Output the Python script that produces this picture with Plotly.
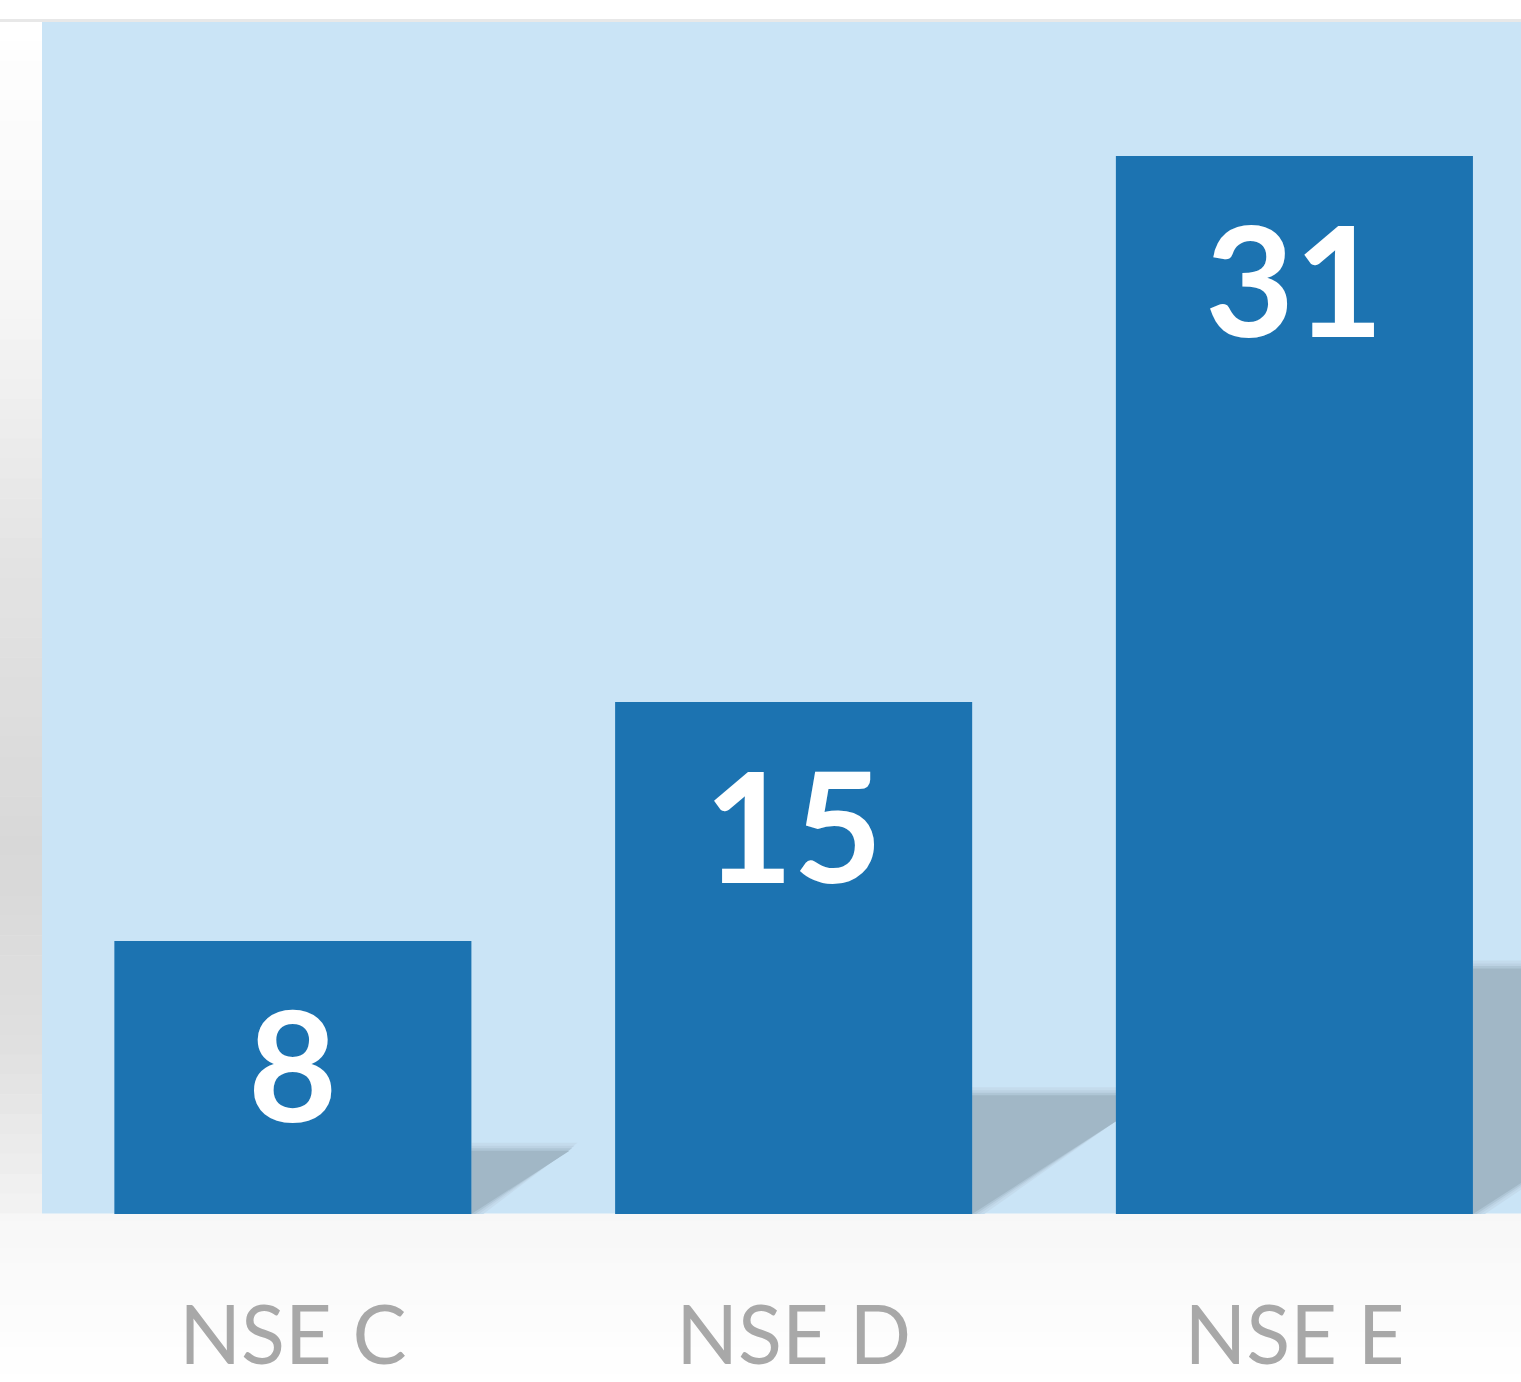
import plotly.graph_objects as go

# ---- data ----
categories = ["NSE C", "NSE D", "NSE E"]
values = [8, 15, 31]

# ---- style ----
BAR = "#1c73b1"
PLOT_BG = "#cae4f6"
SHADOW = "#a1b7c6"
LABEL_GREY = "#a8a8a8"

W, H = 1521, 1382
ML, MR, MT, MB = 42, 0, 22, 168
BAR_WIDTH = 0.713
X_RANGE = [-0.501, 2.4525]
Y_RANGE = [0, 34.93]

plot_w = W - ML - MR
plot_h = H - MT - MB
px_per_x = plot_w / (X_RANGE[1] - X_RANGE[0])
px_per_y = plot_h / (Y_RANGE[1] - Y_RANGE[0])

fig = go.Figure()
fig.add_trace(go.Bar(
    x=categories, y=values, width=BAR_WIDTH,
    marker=dict(color=BAR, line=dict(width=0)),
    hoverinfo="skip",
))

shapes = []

# ---- shadows behind bars (derived from values) ----
def shadow_path(i, v, grow_px=0.0):
    h = 0.232 * v
    dx = 1.55 * h * px_per_y / px_per_x
    g_x = grow_px / px_per_x
    g_y = grow_px / px_per_y
    xr = i + BAR_WIDTH / 2
    return (f"M {xr},{0} L {xr},{h + g_y} L {xr + dx + g_x},{h + g_y} "
            f"L {xr + 1.5 * g_x},{0} Z")

for i, v in enumerate(values):
    for grow, col in [(8, "#c4dbec"), (5, "#bcd2e3"), (2.5, "#afc6d6"), (0, SHADOW)]:
        shapes.append(dict(type="path", path=shadow_path(i, v, grow), xref="x", yref="y",
                           fillcolor=col, line=dict(width=0), layer="below"))

# ---- background decorations (paper coords) ----
def lerp(c1, c2, t):
    return tuple(round(a + (b - a) * t) for a, b in zip(c1, c2))

def hexrgb(h):
    h = h.lstrip("#")
    return tuple(int(h[k:k + 2], 16) for k in (0, 2, 4))

def grad_color(stops, pos):
    for (p1, c1), (p2, c2) in zip(stops, stops[1:]):
        if p1 <= pos <= p2:
            t = (pos - p1) / (p2 - p1) if p2 > p1 else 0
            r, g, b = lerp(hexrgb(c1), hexrgb(c2), t)
            return f"rgb({r},{g},{b})"
    return stops[-1][1]

def py_to_paper(y):
    return (H - MB - y) / plot_h

def px_to_paper(x):
    return (x - ML) / plot_w

# left strip gradient
left_stops = [(22, "#ffffff"), (300, "#f6f6f6"), (550, "#e4e4e4"),
              (850, "#d8d8d8"), (1050, "#e0e0e0"), (1214, "#f3f3f3")]
n = 60
for k in range(n):
    y0 = 22 + (1214 - 22) * k / n
    y1 = 22 + (1214 - 22) * (k + 1) / n
    shapes.append(dict(type="rect", xref="paper", yref="paper",
                       x0=px_to_paper(0), x1=px_to_paper(ML),
                       y0=py_to_paper(y1), y1=py_to_paper(y0) + 0.0005,
                       fillcolor=grad_color(left_stops, (y0 + y1) / 2),
                       line=dict(width=0), layer="below"))

# bottom band gradient
bot_stops = [(1214, "#f7f7f7"), (1382, "#ffffff")]
n = 24
for k in range(n):
    y0 = 1214 + (1382 - 1214) * k / n
    y1 = 1214 + (1382 - 1214) * (k + 1) / n
    shapes.append(dict(type="rect", xref="paper", yref="paper",
                       x0=px_to_paper(0), x1=px_to_paper(W),
                       y0=py_to_paper(y1), y1=py_to_paper(y0) + 0.0005,
                       fillcolor=grad_color(bot_stops, (y0 + y1) / 2),
                       line=dict(width=0), layer="below"))

# top thin grey line
shapes.append(dict(type="rect", xref="paper", yref="paper",
                   x0=px_to_paper(0), x1=px_to_paper(W),
                   y0=py_to_paper(22), y1=py_to_paper(19),
                   fillcolor="#e8e8e8", line=dict(width=0), layer="below"))

# ---- value labels ----
annotations = []
for c, v in zip(categories, values):
    annotations.append(dict(
        x=c, y=v, xref="x", yref="y", text=f"<b>{v}</b>", showarrow=False,
        yanchor="middle", yshift=-121,
        font=dict(family="Lato, 'Open Sans', sans-serif", size=154, color="white"),
    ))

fig.update_layout(
    width=W, height=H,
    margin=dict(l=ML, r=MR, t=MT, b=MB, pad=0, autoexpand=False),
    paper_bgcolor="white",
    plot_bgcolor=PLOT_BG,
    showlegend=False,
    shapes=shapes,
    annotations=annotations,
    xaxis=dict(range=X_RANGE, showgrid=False, zeroline=False, showline=False,
               ticks="", ticklabelstandoff=68, automargin=False,
               tickfont=dict(family="Lato, 'Open Sans', sans-serif", size=81, color=LABEL_GREY)),
    yaxis=dict(range=Y_RANGE, showgrid=False, zeroline=False, showline=False,
               showticklabels=False, ticks="", automargin=False),
)

fig.write_html(
    "out.html",
    config={"displayModeBar": False},
    post_script="document.body.style.margin='0';document.body.style.overflow='hidden';",
)
